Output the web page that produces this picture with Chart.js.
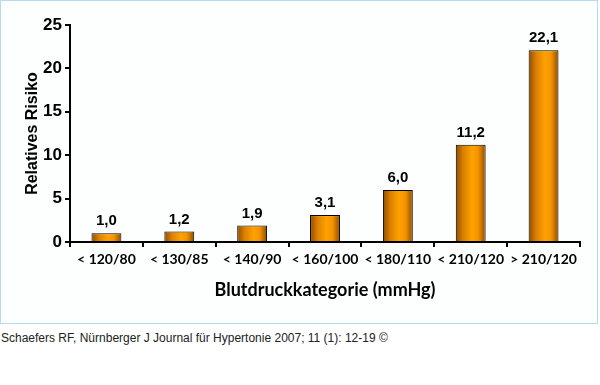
<!DOCTYPE html>
<html lang="de">
<head>
<meta charset="UTF-8">
<title>Relatives Risiko nach Blutdruckkategorie</title>
<style>
  body { margin: 0; background: #fff; }
  #box { width: 596px; height: 322px; border: 1px solid #b4dcee; background: #fdfefe; }
  #cap { font: 12px "Liberation Sans", Arial, sans-serif; color: #222; margin: 7px 0 0 1px; }
</style>
</head>
<body>
<div id="box"><canvas id="myChart"></canvas></div>
<div id="cap">Schaefers RF, Nürnberger J Journal für Hypertonie 2007; 11 (1): 12-19 ©</div>

<script src="https://cdn.jsdelivr.net/npm/chart.js"></script>
<script>
const categories = ['< 120/80', '< 130/85', '< 140/90', '< 160/100', '< 180/110', '< 210/120', '> 210/120'];
const risk = [1.0, 1.2, 1.9, 3.1, 6.0, 11.2, 22.1];
const yTicks = [0, 5, 10, 15, 20, 25];

const barPct = 0.41;

// orange bar shading, dark at the edges
function barFill(ctx) {
  const chart = ctx.chart;
  const x = chart.scales.x;
  if (!x || ctx.dataIndex === undefined) return '#ff9900';
  const c = x.getPixelForValue(ctx.dataIndex);
  const half = x.width / categories.length * barPct / 2;
  if (!isFinite(c) || !isFinite(half) || half <= 0) return '#ff9900';
  const g = chart.ctx.createLinearGradient(c - half, 0, c + half, 0);
  g.addColorStop(0, '#8e4c00');
  g.addColorStop(0.25, '#dc8000');
  g.addColorStop(0.55, '#ffa200');
  g.addColorStop(0.75, '#f49400');
  g.addColorStop(1, '#8e4c00');
  return g;
}

const valueLabels = {
  id: 'valueLabels',
  afterDatasetsDraw(chart) {
    const ctx = chart.ctx;
    const meta = chart.getDatasetMeta(0);
    ctx.save();
    ctx.font = 'bold 15px "Liberation Sans", Arial, sans-serif';
    ctx.fillStyle = '#000';
    ctx.textAlign = 'center';
    ctx.textBaseline = 'alphabetic';
    meta.data.forEach((bar, i) => {
      ctx.fillText(risk[i].toFixed(1).replace('.', ','), bar.x, bar.y - 8);
    });
    ctx.restore();
  }
};

new Chart(document.getElementById('myChart'), {
  type: 'bar',
  data: {
    labels: categories,
    datasets: [{
      data: risk,
      backgroundColor: barFill,
      borderColor: '#000',
      borderWidth: 1,
      barPercentage: barPct,
      categoryPercentage: 1
    }]
  },
  options: {
    responsive: true,
    maintainAspectRatio: false,
    animation: false,
    layout: { padding: { top: 24, right: 17, bottom: 18, left: 18 } },
    plugins: { legend: { display: false }, tooltip: { enabled: false } },
    scales: {
      x: {
        grid: { display: true, drawOnChartArea: false, drawTicks: true, tickLength: 5, color: '#000', lineWidth: 2, offset: true },
        border: { display: true, color: '#000', width: 2 },
        ticks: {
          color: '#000', padding: 4, autoSkip: false, maxRotation: 0, minRotation: 0,
          font: { family: 'Lato, "Liberation Serif", serif', size: 14, weight: 'bold' }
        },
        title: {
          display: true,
          text: 'Blutdruckkategorie (mmHg)',
          color: '#000',
          padding: { top: 8 },
          font: { family: 'Lato, "Liberation Serif", serif', size: 18, weight: 'bold' }
        },
        afterFit(s) { s.height = 63; }
      },
      y: {
        min: 0,
        max: 25,
        afterBuildTicks(s) { s.ticks = yTicks.map(v => ({ value: v })); },
        grid: { display: true, drawOnChartArea: false, drawTicks: true, tickLength: 5, color: '#000', lineWidth: 2 },
        border: { display: true, color: '#000', width: 2 },
        ticks: { color: '#000', padding: 3, font: { family: '"Liberation Sans", Arial, sans-serif', size: 17, weight: 'bold' } },
        title: {
          display: true,
          text: 'Relatives Risiko',
          color: '#000',
          padding: { bottom: 6 },
          font: { family: '"Liberation Sans", Arial, sans-serif', size: 16, weight: 'bold' }
        },
        afterFit(s) { s.width = 51; }
      }
    }
  },
  plugins: [valueLabels]
});
</script>
</body>
</html>
